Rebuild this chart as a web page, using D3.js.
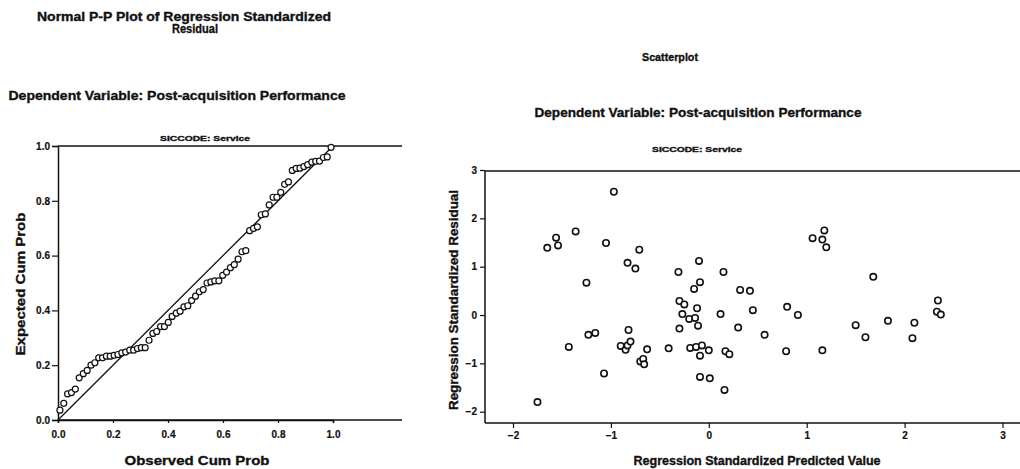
<!DOCTYPE html>
<html>
<head>
<meta charset="utf-8">
<script src="https://cdn.jsdelivr.net/npm/d3@7"></script>
<style>
  body { margin: 0; background: #fff; }
  svg { display: block; }
  text { font-family: "Liberation Sans", Arial, sans-serif; font-weight: bold; fill: #111; }
</style>
</head>
<body>
<svg id="chart" width="1020" height="469"></svg>
<script>
// P-P plot: observed cum prob (x) and expected cum prob (y)
var ppObserved = [0.007,0.021,0.035,0.049,0.063,0.077,0.092,0.106,0.120,0.134,0.148,0.162,0.176,0.190,0.204,0.218,0.232,0.246,0.261,0.275,0.289,0.303,0.317,0.331,0.345,0.359,0.373,0.387,0.401,0.415,0.430,0.444,0.458,0.472,0.486,0.500,0.514,0.528,0.542,0.556,0.570,0.585,0.599,0.613,0.627,0.641,0.655,0.669,0.683,0.697,0.711,0.725,0.739,0.754,0.768,0.782,0.796,0.810,0.824,0.838,0.852,0.866,0.880,0.894,0.908,0.923,0.937,0.951,0.965,0.979,0.993];
var ppExpected = [0.036,0.061,0.095,0.100,0.113,0.154,0.169,0.181,0.200,0.209,0.227,0.227,0.233,0.233,0.236,0.239,0.245,0.248,0.255,0.255,0.261,0.264,0.264,0.291,0.316,0.323,0.341,0.341,0.356,0.378,0.390,0.397,0.413,0.417,0.436,0.452,0.468,0.476,0.500,0.504,0.508,0.508,0.528,0.540,0.556,0.567,0.587,0.614,0.618,0.691,0.699,0.705,0.749,0.752,0.785,0.813,0.813,0.831,0.860,0.869,0.911,0.918,0.919,0.925,0.932,0.941,0.944,0.945,0.958,0.960,0.995];

// scatterplot: standardized predicted value (x) and standardized residual (y)
var predicted = [-0.97,-1.56,-1.65,-1.54,-1.36,-1.05,-0.71,-0.83,-0.75,-1.25,-0.10,-0.31,0.15,-0.09,-0.15,0.32,0.42,-0.30,-0.25,-0.12,-0.27,-0.20,-0.14,0.12,-0.11,-0.30,0.30,0.45,-0.82,-1.23,-1.16,-1.43,-0.90,-0.85,-0.83,-0.80,-0.63,-0.70,-0.67,-0.66,-0.41,-0.19,-0.13,-0.07,0.00,-0.09,0.17,0.21,-1.07,-0.09,0.01,0.16,-1.75,0.80,0.91,0.57,0.79,1.16,1.06,1.18,1.16,1.20,1.68,1.50,1.60,1.83,2.08,2.10,2.34,2.33,2.37];
var residual = [2.55,1.60,1.39,1.44,1.73,1.49,1.35,1.08,0.96,0.67,1.12,0.89,0.89,0.68,0.54,0.52,0.50,0.29,0.22,0.14,0.02,-0.08,-0.06,0.02,-0.22,-0.28,-0.26,0.10,-0.31,-0.41,-0.37,-0.66,-0.64,-0.72,-0.63,-0.55,-0.71,-0.96,-0.91,-1.02,-0.69,-0.68,-0.66,-0.63,-0.73,-0.84,-0.75,-0.81,-1.21,-1.28,-1.31,-1.55,-1.80,0.17,0.00,-0.41,-0.75,-0.73,1.59,1.75,1.56,1.40,0.79,-0.21,-0.46,-0.12,-0.48,-0.16,0.30,0.07,0.01];

var ppTicks = [0, 0.2, 0.4, 0.6, 0.8, 1.0];
var scTicks = [-2, -1, 0, 1, 2, 3];

var svg = d3.select("#chart");

// text helper, textLength keeps the widths near the scan
function label(g, str, x, y, size, len, rotate) {
  var t = g.append("text")
    .attr("x", x).attr("y", y)
    .attr("text-anchor", "middle")
    .style("font-size", size + "px")
    .style("stroke", "#111")
    .style("stroke-width", 0.35)
    .text(str);
  if (len) t.attr("textLength", len).attr("lengthAdjust", "spacingAndGlyphs");
  if (rotate) t.attr("transform", "rotate(-90," + x + "," + y + ")");
  return t;
}

// ---------- left: Normal P-P plot ----------
var left = svg.append("g");
label(left, "Normal P-P Plot of Regression Standardized", 184, 21, 12.5, 294);
label(left, "Residual", 195, 33, 12.5, 46);
label(left, "Dependent Variable: Post-acquisition Performance", 177, 100, 13, 337);
label(left, "SICCODE: Service", 205, 141, 7.5, 90);

var xPP = d3.scaleLinear().domain([0, 1]).range([58, 333]);
var yPP = d3.scaleLinear().domain([0, 1]).range([420, 146]);
var ppRight = 402;

left.append("line").attr("x1", 58).attr("x2", ppRight).attr("y1", yPP(1)).attr("y2", yPP(1))
  .attr("stroke", "#111").attr("stroke-width", 1.5);
left.append("line").attr("x1", 58).attr("x2", ppRight).attr("y1", yPP(0)).attr("y2", yPP(0))
  .attr("stroke", "#111").attr("stroke-width", 1.5);

var ppYAxis = left.append("g").attr("transform", "translate(58,0)")
  .call(d3.axisLeft(yPP).tickValues(ppTicks).tickFormat(d3.format(".1f")).tickSize(6).tickPadding(2));
var ppXAxis = left.append("g").attr("transform", "translate(0,420)")
  .call(d3.axisBottom(xPP).tickValues(ppTicks).tickFormat(d3.format(".1f")).tickSize(3).tickPadding(8));

label(left, "Expected Cum Prob", 25, 284, 13.5, 143, true);
label(left, "Observed Cum Prob", 197, 465, 13.5, 145);

// reference diagonal
left.append("line")
  .attr("x1", xPP(0)).attr("y1", yPP(0)).attr("x2", xPP(1)).attr("y2", yPP(1))
  .attr("stroke", "#111").attr("stroke-width", 1.3);

left.append("g").selectAll("circle")
  .data(ppObserved)
  .enter()
  .append("circle")
  .attr("cx", function (d) { return xPP(d); })
  .attr("cy", function (d, i) { return yPP(ppExpected[i]); })
  .attr("r", 3)
  .attr("fill", "#fff")
  .attr("stroke", "#111")
  .attr("stroke-width", 1.2);

// ---------- right: Scatterplot ----------
var right = svg.append("g");
label(right, "Scatterplot", 670, 61, 11.5, 56);
label(right, "Dependent Variable: Post-acquisition Performance", 698, 117, 13, 327);
label(right, "SICCODE: Service", 697, 152, 7.5, 90);

var xSc = d3.scaleLinear().domain([-2, 3]).range([513, 1002.5]);
var ySc = d3.scaleLinear().domain([-2, 3]).range([411.7, 170]);
var frameTop = 171, frameBottom = 423, frameLeft = 485;

right.append("line").attr("x1", frameLeft).attr("x2", 1020).attr("y1", frameTop).attr("y2", frameTop)
  .attr("stroke", "#111").attr("stroke-width", 1.5);

var scXAxis = right.append("g").attr("transform", "translate(0," + frameBottom + ")")
  .call(d3.axisBottom(xSc).tickValues(scTicks).tickFormat(d3.format("d")).tickSize(5).tickPadding(4));
scXAxis.select(".domain").attr("d", "M" + frameLeft + ",0H1020");

var scYAxis = right.append("g").attr("transform", "translate(" + frameLeft + ",0)")
  .call(d3.axisLeft(ySc).tickValues(scTicks).tickFormat(d3.format("d")).tickSize(5).tickPadding(3));
scYAxis.select(".domain").attr("d", "M0," + frameTop + "V" + frameBottom);

label(right, "Regression Standardized Residual", 458, 300, 12.5, 220, true);
label(right, "Regression Standardized Predicted Value", 757, 465, 12.5, 247);

right.append("g").selectAll("circle")
  .data(predicted)
  .enter()
  .append("circle")
  .attr("cx", function (d) { return xSc(d); })
  .attr("cy", function (d, i) { return ySc(residual[i]); })
  .attr("r", 3.2)
  .attr("fill", "#fff")
  .attr("stroke", "#111")
  .attr("stroke-width", 1.6);

// axis styling
svg.selectAll(".domain").attr("stroke", "#111").attr("stroke-width", 1.5);
svg.selectAll(".tick line").attr("stroke", "#111").attr("stroke-width", 1.2);
svg.selectAll(".tick text")
  .style("font-family", "'Liberation Sans', Arial, sans-serif")
  .style("font-weight", "bold")
  .style("font-size", "10px")
  .style("stroke", "#111")
  .style("stroke-width", 0.2)
  .attr("fill", "#111");
</script>
</body>
</html>
